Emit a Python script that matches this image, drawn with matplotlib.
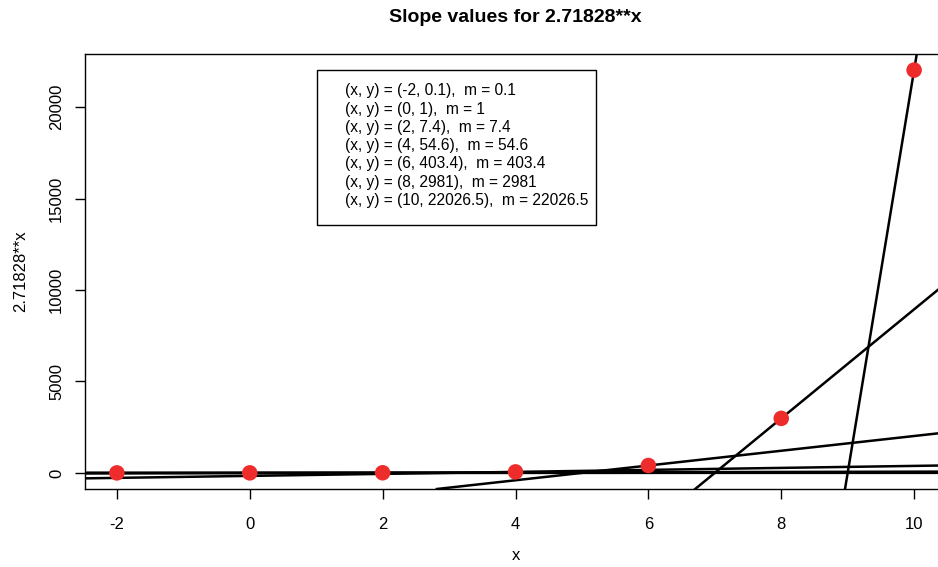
import numpy as np
import matplotlib.pyplot as plt
from matplotlib.patches import Rectangle

# points where the slope is shown, and the values printed in the legend
x_pts = [-2, 0, 2, 4, 6, 8, 10]
y_pts = [0.1353, 1.0, 7.389, 54.598, 403.43, 2980.96, 22026.47]
slopes = [0.1353, 1.0, 7.389, 54.598, 403.43, 2980.96, 22026.47]
y_lbl = ["0.1", "1", "7.4", "54.6", "403.4", "2981", "22026.5"]
m_lbl = ["0.1", "1", "7.4", "54.6", "403.4", "2981", "22026.5"]
x_ticks = [-2, 0, 2, 4, 6, 8, 10]
y_ticks = [0, 5000, 10000, 15000, 20000]

plt.rcParams['font.family'] = ['Liberation Sans', 'DejaVu Sans']
plt.rcParams['axes.unicode_minus'] = False

W, H = 938, 567
fig = plt.figure(figsize=(W / 100, H / 100), dpi=100)
ax = fig.add_axes([85 / W, 78 / H, 861 / W, 435 / H])

# tangent lines (abline style, span the whole plot)
for x0, y0, m in zip(x_pts, y_pts, slopes):
    ax.axline((x0, y0), slope=m, color='black', lw=1.8, zorder=2)

ax.scatter(x_pts, y_pts, s=125, color='#EE2C2C', edgecolors='none', zorder=3)

ax.set_xlim(-2.48, 10.48)
ax.set_ylim(-881, 22907)
ax.set_xticks(x_ticks)
ax.set_yticks(y_ticks)
ax.set_yticklabels([str(t) for t in y_ticks], rotation=90, va='center')
ax.tick_params(direction='out', length=7, width=1, labelsize=12)
ax.tick_params(axis='x', pad=13)
ax.tick_params(axis='y', pad=8)
for s in ax.spines.values():
    s.set_linewidth(1)

ax.set_xlabel('x', fontsize=12, labelpad=12)
ax.set_ylabel('2.71828**x', fontsize=12, labelpad=15)
fig.text(515 / W, 1 - 18 / H, 'Slope values for 2.71828**x',
         ha='center', va='center', fontsize=14, fontweight='bold')

# legend box drawn by hand, R style (text only)
labels = ["(x, y) = (%d, %s),  m = %s" % (x, yl, ml)
          for x, yl, ml in zip(x_pts, y_lbl, m_lbl)]
fig.patches.append(Rectangle((317 / W, 1 - 225 / H), (596 - 317) / W, 155 / H,
                             transform=fig.transFigure, fill=True,
                             facecolor='white', edgecolor='black', lw=1,
                             zorder=5))
for i, lab in enumerate(labels):
    fig.text(345 / W, 1 - (91 + 18.2 * i) / H, lab, ha='left', va='center',
             fontsize=11.2, zorder=6)

fig.savefig('out.png', dpi=100)
